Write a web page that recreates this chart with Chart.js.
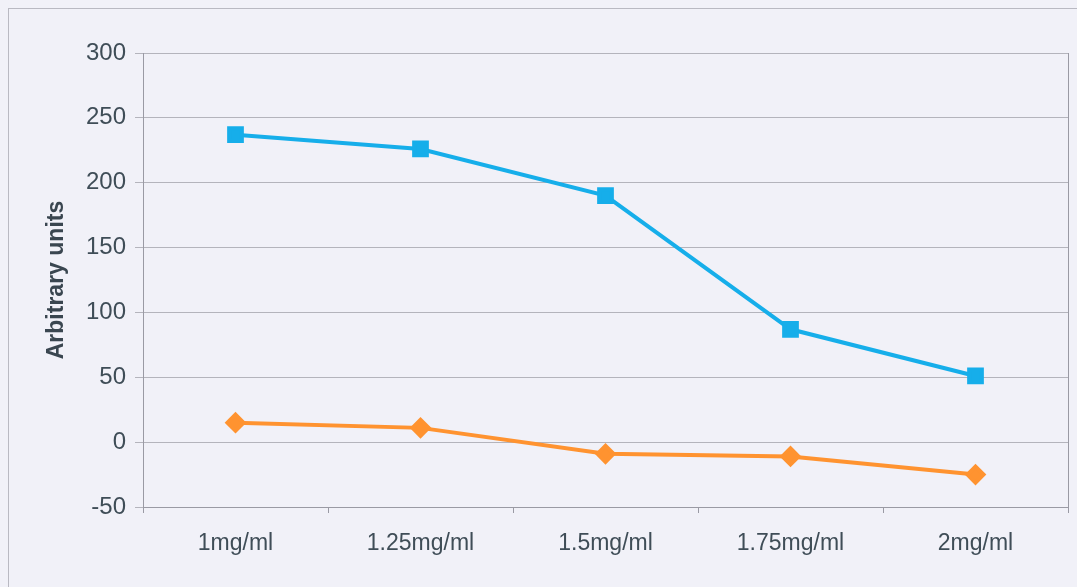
<!DOCTYPE html>
<html>
<head>
<meta charset="utf-8">
<script src="https://cdn.jsdelivr.net/npm/chart.js@4/dist/chart.umd.min.js"></script>
<style>
  html, body { margin: 0; padding: 0; background: #f1f1f8; }
  #wrap { position: relative; width: 1077px; height: 587px; overflow: hidden; }
  #frame { position: absolute; left: 8px; top: 8px; width: 1100px; height: 600px; border: 1px solid #b9b9c2; }
  canvas { position: absolute; left: 0; top: 0; }
</style>
</head>
<body>
<div id="wrap">
  <div id="frame"></div>
  <canvas id="chart" width="1077" height="587"></canvas>
</div>
<script>
// values
const concentrations = ['1mg/ml', '1.25mg/ml', '1.5mg/ml', '1.75mg/ml', '2mg/ml'];
const blueSeries = [237, 226, 190, 87, 51];
const orangeSeries = [15, 11, -9, -11, -25];
const yMin = -50;
const yMax = 300;
const yStep = 50;

const textColor = '#3f4d57';
const gridColor = '#b4b4bc';

// right edge of the plot box
const plotFrame = {
  id: 'plotFrame',
  afterDraw(chart) {
    const { ctx, chartArea } = chart;
    ctx.save();
    ctx.strokeStyle = '#9a9aa4';
    ctx.lineWidth = 1;
    ctx.beginPath();
    ctx.moveTo(chartArea.right + 0.5, chartArea.top);
    ctx.lineTo(chartArea.right + 0.5, chartArea.bottom);
    ctx.stroke();
    ctx.restore();
  }
};

new Chart(document.getElementById('chart'), {
  type: 'line',
  data: {
    labels: concentrations,
    datasets: [{
      label: 'Series 1',
      data: blueSeries,
      borderColor: '#16aeea',
      backgroundColor: '#16aeea',
      borderWidth: 4,
      pointStyle: 'rect',
      pointRadius: 9,
      pointHoverRadius: 9,
      tension: 0
    }, {
      label: 'Series 2',
      data: orangeSeries,
      borderColor: '#ff9330',
      backgroundColor: '#ff9330',
      borderWidth: 4,
      pointStyle: 'rectRot',
      pointRadius: 8,
      pointHoverRadius: 8,
      tension: 0
    }]
  },
  options: {
    responsive: false,
    animation: false,
    layout: { autoPadding: false, padding: { top: 53, right: 9, left: 0, bottom: 0 } },
    plugins: {
      legend: { display: false },
      tooltip: { enabled: false }
    },
    scales: {
      x: {
        offset: true,
        grid: {
          offset: true,
          drawOnChartArea: false,
          color: '#9a9aa4',
          tickLength: 6
        },
        border: { color: '#9a9aa4' },
        ticks: {
          color: textColor,
          font: { family: 'Liberation Sans', size: 23 },
          padding: 17,
          maxRotation: 0
        },
        afterFit(scale) {
          scale.height = 80;
          scale.paddingLeft = 0;
          scale.paddingRight = 0;
        }
      },
      y: {
        min: yMin,
        max: yMax,
        grid: { color: gridColor, tickLength: 8 },
        border: { color: '#9a9aa4' },
        ticks: {
          stepSize: yStep,
          color: textColor,
          font: { family: 'Liberation Sans', size: 24 },
          padding: 9
        },
        title: {
          display: true,
          text: 'Arbitrary units',
          color: '#3a4650',
          font: { family: 'Liberation Sans', size: 23, weight: 'bold' },
          padding: { top: 43, bottom: 0 }
        },
        afterFit(scale) { scale.width = 143; }
      }
    }
  },
  plugins: [plotFrame]
});
</script>
</body>
</html>
